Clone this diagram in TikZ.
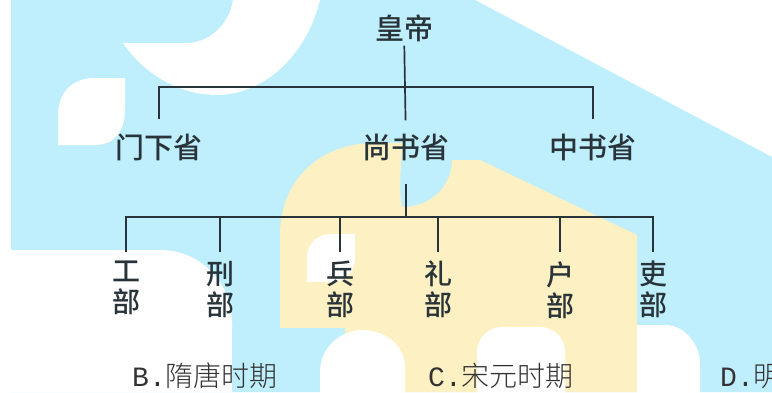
\documentclass[tikz,border=0pt]{standalone}
\usepackage{fontspec}
\usepackage{tikz}

\IfFontExistsTF{Noto Sans CJK SC Medium}{\newfontfamily\cjkmid{Noto Sans CJK SC Medium}}{\newfontfamily\cjkmid{Noto Sans CJK SC}}
\IfFontExistsTF{Noto Sans CJK SC Light}{\newfontfamily\cjkthin{Noto Sans CJK SC Light}}{\newfontfamily\cjkthin{Noto Sans CJK SC}}
\newfontfamily\latinmono{Liberation Mono}

\definecolor{wmblue}{RGB}{191,239,252}
\definecolor{wmyellow}{RGB}{253,240,194}
\definecolor{ink}{RGB}{40,52,58}

\begin{document}
\begin{tikzpicture}[x=1pt,y=-1pt,
      office/.style={font=\cjkmid\fontsize{29}{29}\selectfont, text=ink, inner sep=0pt},
      ministry/.style={font=\cjkmid\fontsize{28}{31}\selectfont, text=ink, align=center, inner sep=0pt, anchor=north},
      choice/.style={font=\cjkthin\fontsize{28}{28}\selectfont, text=black!80, anchor=base west, inner sep=0pt},
      link/.style={draw=ink, line width=1.7pt}]
      \useasboundingbox (0,0) rectangle (772,392);

      \fill[white] (0,0) rectangle (772,392);
      \fill[wmblue] (11,0) -- (475,0) -- (772,157) -- (772,392) -- (11,392) -- cycle;
      \fill[white] (233,0) -- (320,0) .. controls (305,60) and (260,95) .. (217,95) .. controls (180,95) and (145,75) .. (123,43) -- (190,43) .. controls (215,40) and (230,20) .. (233,0) -- cycle;
      \fill[white] (125,78) -- (125,110) .. controls (125,130) and (115,145) .. (95,145) -- (58,145) -- (58,115) .. controls (58,95) and (70,78) .. (95,78) -- cycle;
      \fill[white] (0,392) -- (0,250) -- (160,250) .. controls (200,250) and (232,282) .. (232,323) -- (232,392) -- cycle;
      \fill[wmyellow] (280,328) -- (280,235) .. controls (280,180) and (320,143) .. (375,143) -- (403,143) .. controls (400,170) and (399,195) .. (402,207) .. controls (432,207) and (452,185) .. (452,160) -- (480,160) -- (637,235) -- (637,392) -- (320,392) -- (320,328) -- cycle;
      \fill[wmblue] (232,328) rectangle (345,392);
      \fill[white] (355,234) -- (355,258) .. controls (355,272) and (345,282) .. (331,282) -- (307,282) -- (307,258) .. controls (307,244) and (317,234) .. (331,234) -- cycle;
      \fill[white] (320,400) -- (320,372) .. controls (320,348) and (340,330) .. (362,330) .. controls (385,330) and (405,345) .. (405,368) -- (405,400) -- cycle;
      \fill[white, rounded corners=25pt] (477,400) -- (477,327) -- (565,327) -- (565,400);
      \fill[white] (637,400) -- (637,325) -- (665,325) .. controls (685,325) and (700,345) .. (700,363) -- (700,400) -- cycle;

      \node[office] (emperor) at (404,28) {皇帝};
      \node[office] (menxia) at (159,147) {门下省};
      \node[office] (shangshu) at (406,147) {尚书省};
      \node[office] (zhongshu) at (593,147) {中书省};
      \coordinate (upper) at (406,87);
      \coordinate (lower) at (406,217);

      \node[ministry] (gong) at (126,261) {工\\部};
      \node[ministry] (xing) at (220,261) {刑\\部};
      \node[ministry] (bing) at (340,261) {兵\\部};
      \node[ministry] (li) at (438,261) {礼\\部};
      \node[ministry] (hu) at (560,261) {户\\部};
      \node[ministry] (lii) at (653,261) {吏\\部};

      \draw[link, shorten <=4pt, shorten >=13pt] (emperor) -- (shangshu);
      \draw[link, shorten <=14pt, shorten >=14pt] (menxia.north) |- (upper) -| (zhongshu.north);
      \draw[link, shorten <=23pt] (shangshu.south) -- (lower);
      \draw[link, shorten <=9pt, shorten >=9pt] (gong.north) |- (lower) -| (lii.north);
      \foreach \n in {xing,bing,li,hu}
        \draw[link, shorten >=9pt] (\n.north |- lower) -- (\n.north);

      \node[choice] (optb) at (132,386) {{\latinmono B.}隋唐时期};
      \node[choice] (optc) at (428,386) {{\latinmono C.}宋元时期};
      \node[choice] (optd) at (720,386) {{\latinmono D.}明};

    \end{tikzpicture}
\end{document}
